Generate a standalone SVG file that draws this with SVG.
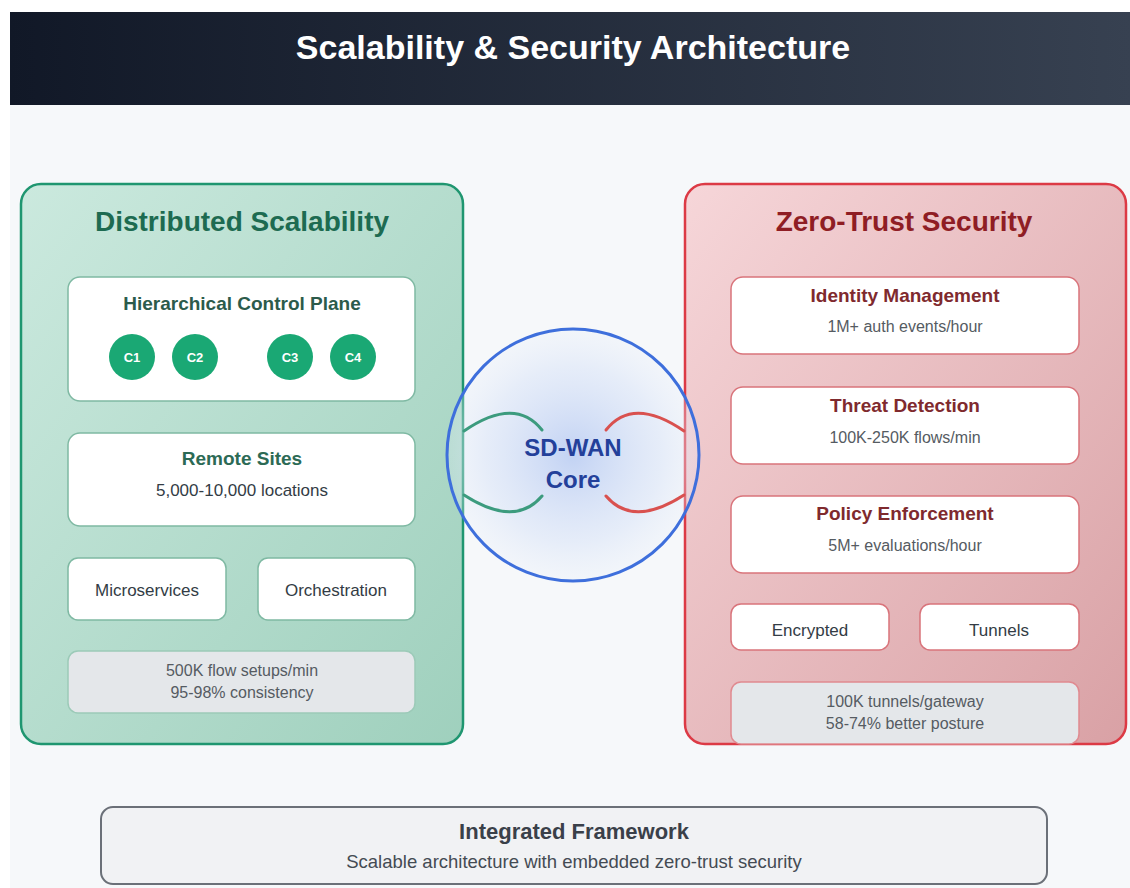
<svg xmlns="http://www.w3.org/2000/svg" width="1130" height="888" viewBox="0 0 1130 888">
  <defs>
    <linearGradient id="hdr" x1="0" y1="0" x2="1" y2="0">
      <stop offset="0" stop-color="#111827"/>
      <stop offset="1" stop-color="#374151"/>
    </linearGradient>
    <linearGradient id="gpan" x1="0" y1="0" x2="1" y2="1">
      <stop offset="0" stop-color="#cbe9de"/>
      <stop offset="1" stop-color="#9fd0bd"/>
    </linearGradient>
    <linearGradient id="rpan" x1="0" y1="0" x2="1" y2="1">
      <stop offset="0" stop-color="#f6d6d9"/>
      <stop offset="1" stop-color="#d9a1a5"/>
    </linearGradient>
    <radialGradient id="core" cx="0.5" cy="0.5" r="0.5">
      <stop offset="0" stop-color="#bfd0f3" stop-opacity="0.95"/>
      <stop offset="0.7" stop-color="#dbe5f8" stop-opacity="0.6"/>
      <stop offset="1" stop-color="#e6edfa" stop-opacity="0.25"/>
    </radialGradient>
  </defs>
  <style>
    .sans { font-family: "Liberation Sans", Arial, sans-serif; }
    .card { fill: #ffffff; }
    .gcard { stroke: #7fb9a3; stroke-width: 1.5; }
    .rcard { stroke: #d9747b; stroke-width: 1.5; }
    .gstat { fill: #e4e7ea; stroke: #9ccab8; stroke-width: 1.5; }
    .rstat { fill: #e4e7ea; stroke: #e08a90; stroke-width: 1.5; }
    .ptitle { font-size: 28px; font-weight: bold; text-anchor: middle; }
    .ctitle { font-size: 19px; font-weight: bold; text-anchor: middle; }
    .sub { font-size: 17px; fill: #333c45; text-anchor: middle; }
    .small { font-size: 16px; fill: #555b62; text-anchor: middle; }
    .node { fill: #1aa874; }
    .ntext { font-size: 13px; font-weight: bold; fill: #ffffff; text-anchor: middle; }
    .conn { fill: none; stroke-width: 3; stroke-linecap: round; }
  </style>

  <rect x="0" y="0" width="1130" height="888" fill="#ffffff"/>
  <rect x="10" y="105" width="1120" height="783" fill="#f6f8fa"/>

  <g id="header">
    <rect x="10" y="12" width="1120" height="93" fill="url(#hdr)"/>
    <text class="sans" x="573" y="59" font-size="34" font-weight="bold" fill="#ffffff" text-anchor="middle">Scalability &amp; Security Architecture</text>
  </g>

  <g id="scalability-panel">
    <rect x="21" y="184" width="442" height="560" rx="20" fill="url(#gpan)" stroke="#1f9670" stroke-width="2.5"/>
    <text class="sans ptitle" x="242" y="231" fill="#1d6b51">Distributed Scalability</text>
  </g>

  <g id="hierarchical-control-plane">
    <rect class="card gcard" x="68" y="277" width="347" height="124" rx="12"/>
    <text class="sans ctitle" x="242" y="310" fill="#2c5b4b">Hierarchical Control Plane</text>
    <g id="c1"><circle class="node" cx="132" cy="357" r="23"/><text class="sans ntext" x="132" y="362">C1</text></g>
    <g id="c2"><circle class="node" cx="195" cy="357" r="23"/><text class="sans ntext" x="195" y="362">C2</text></g>
    <g id="c3"><circle class="node" cx="290" cy="357" r="23"/><text class="sans ntext" x="290" y="362">C3</text></g>
    <g id="c4"><circle class="node" cx="353" cy="357" r="23"/><text class="sans ntext" x="353" y="362">C4</text></g>
  </g>

  <g id="remote-sites">
    <rect class="card gcard" x="68" y="433" width="347" height="93" rx="12"/>
    <text class="sans ctitle" x="242" y="465" fill="#2c6a55">Remote Sites</text>
    <text class="sans sub" x="242" y="496">5,000-10,000 locations</text>
  </g>

  <g id="microservices">
    <rect class="card gcard" x="68" y="558" width="158" height="62" rx="10"/>
    <text class="sans sub" x="147" y="596" fill="#3d464f">Microservices</text>
  </g>

  <g id="orchestration">
    <rect class="card gcard" x="258" y="558" width="157" height="62" rx="10"/>
    <text class="sans sub" x="336" y="596">Orchestration</text>
  </g>

  <g id="scalability-stats">
    <rect class="gstat" x="68" y="651" width="347" height="62" rx="10"/>
    <text class="sans small" x="242" y="676">500K flow setups/min</text>
    <text class="sans small" x="242" y="698">95-98% consistency</text>
  </g>

  <g id="security-panel">
    <rect x="685" y="184" width="441" height="560" rx="20" fill="url(#rpan)" stroke="#dc3a45" stroke-width="2.5"/>
    <text class="sans ptitle" x="904" y="231" fill="#8f1d24">Zero-Trust Security</text>
  </g>

  <g id="identity-management">
    <rect class="card rcard" x="731" y="277" width="348" height="77" rx="12"/>
    <text class="sans ctitle" x="905" y="302" fill="#7f2a2e">Identity Management</text>
    <text class="sans small" x="905" y="332">1M+ auth events/hour</text>
  </g>

  <g id="threat-detection">
    <rect class="card rcard" x="731" y="387" width="348" height="77" rx="12"/>
    <text class="sans ctitle" x="905" y="412" fill="#7f2a2e">Threat Detection</text>
    <text class="sans small" x="905" y="443">100K-250K flows/min</text>
  </g>

  <g id="policy-enforcement">
    <rect class="card rcard" x="731" y="496" width="348" height="77" rx="12"/>
    <text class="sans ctitle" x="905" y="520" fill="#7f2a2e">Policy Enforcement</text>
    <text class="sans small" x="905" y="551">5M+ evaluations/hour</text>
  </g>

  <g id="encrypted">
    <rect class="card rcard" x="731" y="604" width="158" height="46" rx="10"/>
    <text class="sans sub" x="810" y="636">Encrypted</text>
  </g>

  <g id="tunnels">
    <rect class="card rcard" x="920" y="604" width="159" height="46" rx="10"/>
    <text class="sans sub" x="999" y="636">Tunnels</text>
  </g>

  <g id="security-stats">
    <rect class="rstat" x="731" y="682" width="348" height="62" rx="10"/>
    <text class="sans small" x="905" y="707">100K tunnels/gateway</text>
    <text class="sans small" x="905" y="729">58-74% better posture</text>
  </g>

  <g id="sdwan-core">
    <circle cx="573" cy="455" r="126" fill="url(#core)" stroke="#3e6fdc" stroke-width="3"/>
    <text class="sans" x="573" y="456" font-size="24" font-weight="bold" fill="#23409a" text-anchor="middle">SD-WAN</text>
    <text class="sans" x="573" y="488" font-size="24" font-weight="bold" fill="#23409a" text-anchor="middle">Core</text>
  </g>

  <g id="connectors">
    <path class="conn" d="M 464 431 Q 515 396 542 430" stroke="#3c9b7e"/>
    <path class="conn" d="M 464 495 Q 515 528 542 496" stroke="#3c9b7e"/>
    <path class="conn" d="M 606 430 Q 633 396 684 431" stroke="#d9514f"/>
    <path class="conn" d="M 606 496 Q 633 528 684 495" stroke="#d9514f"/>
  </g>

  <g id="integrated-framework">
    <rect x="101" y="807" width="946" height="77" rx="12" fill="#f1f2f4" stroke="#6b7078" stroke-width="2"/>
    <text class="sans" x="574" y="839" font-size="22" font-weight="bold" fill="#3a4049" text-anchor="middle">Integrated Framework</text>
    <text class="sans" x="574" y="868" font-size="18.5" fill="#444b53" text-anchor="middle">Scalable architecture with embedded zero-trust security</text>
  </g>
</svg>
